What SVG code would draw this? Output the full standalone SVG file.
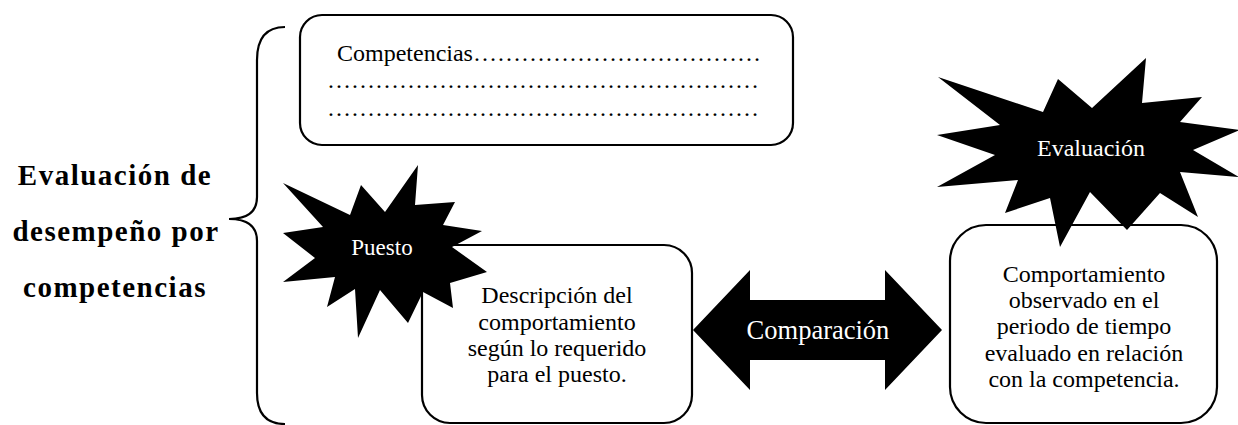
<svg xmlns="http://www.w3.org/2000/svg" width="1238" height="425" viewBox="0 0 1238 425">
<style>
.box{fill:#fff;stroke:#000;stroke-width:2.2}
.t{font-size:24px;fill:#000}
.c{text-anchor:middle}
.w{fill:#fff}
.star{fill:#000}
.title{font-size:29px;font-weight:bold;letter-spacing:1.5px;text-anchor:middle;fill:#000}
</style>
<rect width="1238" height="425" fill="#fff"/>
<g font-family="Liberation Serif, DejaVu Serif, serif">
<g id="title">
<text class="title" x="115" y="185">Evaluación de</text>
<text class="title" x="116" y="241">desempeño por</text>
<text class="title" x="115" y="297">competencias</text>
</g>
<g id="connectors">
<path id="brace" d="M285,27 Q257,27 257,60 L257,197 Q257,219 229,219 Q257,219 257,241 L257,393 Q257,424 285,424" fill="none" stroke="#000" stroke-width="2.2"/>
</g>
<g id="competencias">
<rect class="box" x="300" y="15" width="493" height="130" rx="22"/>
<text class="t" x="337" y="61">Competencias&#8230;&#8230;&#8230;&#8230;&#8230;&#8230;&#8230;&#8230;&#8230;&#8230;&#8230;&#8230;</text>
<text class="t" x="327" y="88">&#8230;&#8230;&#8230;&#8230;&#8230;&#8230;&#8230;&#8230;&#8230;&#8230;&#8230;&#8230;&#8230;&#8230;&#8230;&#8230;&#8230;&#8230;</text>
<text class="t" x="327" y="116">&#8230;&#8230;&#8230;&#8230;&#8230;&#8230;&#8230;&#8230;&#8230;&#8230;&#8230;&#8230;&#8230;&#8230;&#8230;&#8230;&#8230;&#8230;</text>
</g>
<g id="descripcion">
<rect class="box" x="422" y="245" width="270" height="178" rx="28"/>
<text class="t c" x="557" y="303">Descripción del</text>
<text class="t c" x="557" y="330">comportamiento</text>
<text class="t c" x="557" y="356">según lo requerido</text>
<text class="t c" x="557" y="382">para el puesto.</text>
</g>
<g id="comportamiento">
<rect class="box" x="950" y="225" width="267" height="198" rx="36"/>
<text class="t c" x="1084" y="282">Comportamiento</text>
<text class="t c" x="1084" y="308">observado en el</text>
<text class="t c" x="1084" y="334">periodo de tiempo</text>
<text class="t c" x="1084" y="361">evaluado en relación</text>
<text class="t c" x="1084" y="387">con la competencia.</text>
</g>
<g id="puesto">
<polygon class="star" points="283,183 350,215 361,185 385,212 418,165 415,205 455,202 443,225 482,231 452,247 487,272 450,283 453,308 423,292 408,323 380,290 358,338 355,289 327,307 335,277 283,282 315,258 283,233 323,227"/>
<text class="t c w" x="382" y="255" style="font-size:23px">Puesto</text>
</g>
<g id="evaluacion">
<polygon class="star" points="938,77 1043,112 1058,79 1092,108 1146,58 1142,103 1202,97 1180,122 1240,130 1193,150 1239,177 1180,172 1198,217 1160,193 1127,230 1090,192 1060,247 1050,198 1005,213 1018,180 937,187 995,155 937,135 1000,125"/>
<text class="t c w" x="1091" y="156">Evaluación</text>
</g>
<g id="comparacion">
<polygon class="star" points="693,330 750,270 750,300 885,300 885,270 942,330 885,390 885,360 750,360 750,390"/>
<text class="t c w" x="818" y="339" style="font-size:26.5px">Comparación</text>
</g>
</g>
</svg>
